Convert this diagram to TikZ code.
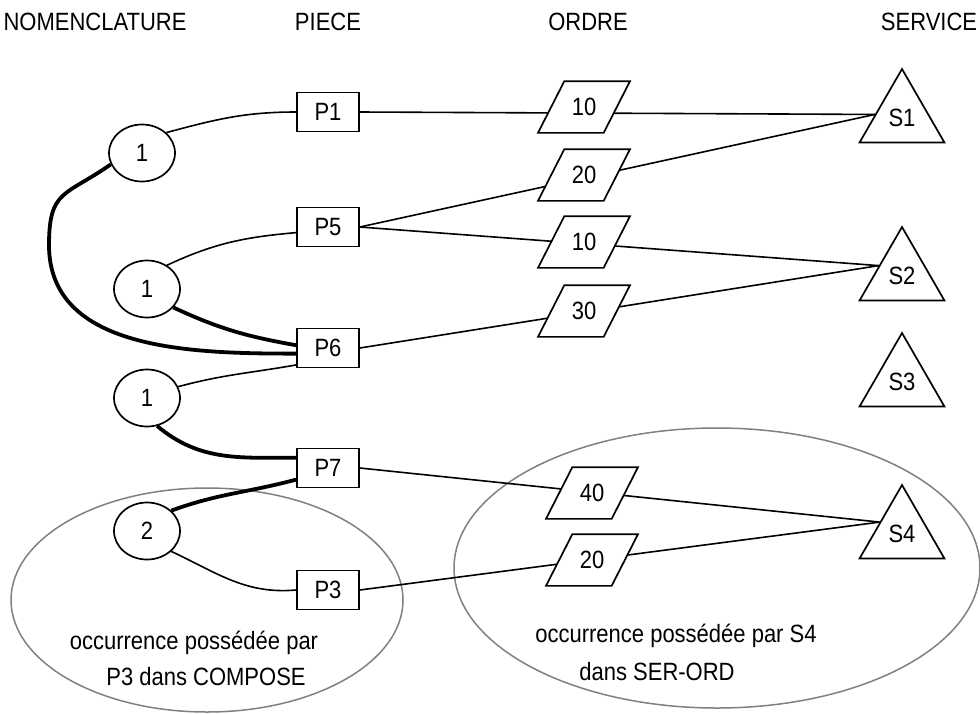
\documentclass[tikz,border=0pt]{standalone}
\usepackage{fontspec}
\setmainfont{Liberation Sans}[FakeStretch=0.88]
\usetikzlibrary{shapes.geometric,calc}

\begin{document}
\begin{tikzpicture}[x=1pt,y=-1pt,
    every node/.style={font=\fontsize{25}{29}\selectfont},
    occ/.style={ellipse,draw,line width=1.7pt,minimum width=66pt,minimum height=57pt,inner sep=0pt},
    piece/.style={rectangle,draw,line width=1.7pt,minimum width=62pt,minimum height=39pt,inner sep=0pt},
    ordre/.style={trapezium,trapezium left angle=63,trapezium right angle=117,trapezium stretches body,draw,fill=white,line width=1.7pt,minimum width=92pt,inner xsep=0pt,inner ysep=17pt},
    serv/.style={regular polygon,regular polygon sides=3,draw,line width=1.7pt,minimum size=98pt,inner sep=0pt},
    lien/.style={line width=1.6pt},
    fort/.style={line width=3.8pt},
    zone/.style={draw=gray,line width=1.5pt}]
    \useasboundingbox (0,0) rectangle (980,713);

    \node (tnom) at (95,22) {NOMENCLATURE};
    \node (tpiece) at (328,22) {PIECE};
    \node (tordre) at (588,22) {ORDRE};
    \node (tserv) at (929,22) {SERVICE};

    \draw[zone] (207,600) ellipse [x radius=196, y radius=112];
    \draw[zone] (717,568) ellipse [x radius=263, y radius=140];

    \node[occ] (n1) at (142,153) {1};
    \node[occ] (n2) at (147,289) {1};
    \node[occ] (n3) at (147,398) {1};
    \node[occ] (n4) at (147,531) {2};

    \node[piece] (P1) at (328,112) {P1};
    \node[piece] (P5) at (328,227) {P5};
    \node[piece] (P6) at (328,348) {P6};
    \node[piece] (P7) at (328,468) {P7};
    \node[piece] (P3) at (328,590) {P3};

    \node[serv] (S1) at (902,118) {S1};
    \node[serv] (S2) at (902,276) {S2};
    \node[serv] (S3) at (902,382) {S3};
    \node[serv] (S4) at (902,534) {S4};
    \coordinate (s1in) at ($(S1.corner 1)!0.62!(S1.corner 2)$);
    \coordinate (s2in) at ($(S2.corner 1)!0.53!(S2.corner 2)$);
    \coordinate (s4in) at ($(S4.corner 1)!0.51!(S4.corner 2)$);

    \draw[lien] (n1.40) to[out=15,in=180] (P1.west);
    \draw[fort] (n1.200) to[out=215,in=90,looseness=1.4] (49,245) to[out=270,in=180] (P6.190);
    \draw[lien] (n2.50) to[out=25,in=185] (P5.190);
    \draw[fort] (n2.-35) to[out=-25,in=170] (P6.175);
    \draw[lien] (n3.20) to[out=15,in=190] (P6.208);
    \draw[fort] (n3.-70) to[out=-40,in=180] (P7.162);
    \draw[fort] (n4.40) to[out=20,in=195] (P7.200);
    \draw[lien] (n4.-40) to[out=-25,in=185] (P3.west);

    \draw[lien] (P1.east) -- (s1in);
    \draw[lien] (P5.east) -- (s1in);
    \draw[lien] (P5.east) -- (s2in);
    \draw[lien] (P6.east) -- (s2in);
    \draw[lien] (P7.east) -- (s4in);
    \draw[lien] (P3.east) -- (s4in);

    \node[ordre] (o1) at (584,107) {10};
    \node[ordre] (o2) at (584,175) {20};
    \node[ordre] (o3) at (584,242) {10};
    \node[ordre] (o4) at (584,311) {30};
    \node[ordre] (o5) at (592,493) {40};
    \node[ordre] (o6) at (592,560) {20};

    \node (tcomp1) at (194,643) {occurrence possédée par};
    \node (tcomp2) at (206,677) {P3 dans COMPOSE};
    \node (tser1) at (676,636) {occurrence possédée par S4};
    \node (tser2) at (657,672) {dans SER-ORD};
\end{tikzpicture}
\end{document}
